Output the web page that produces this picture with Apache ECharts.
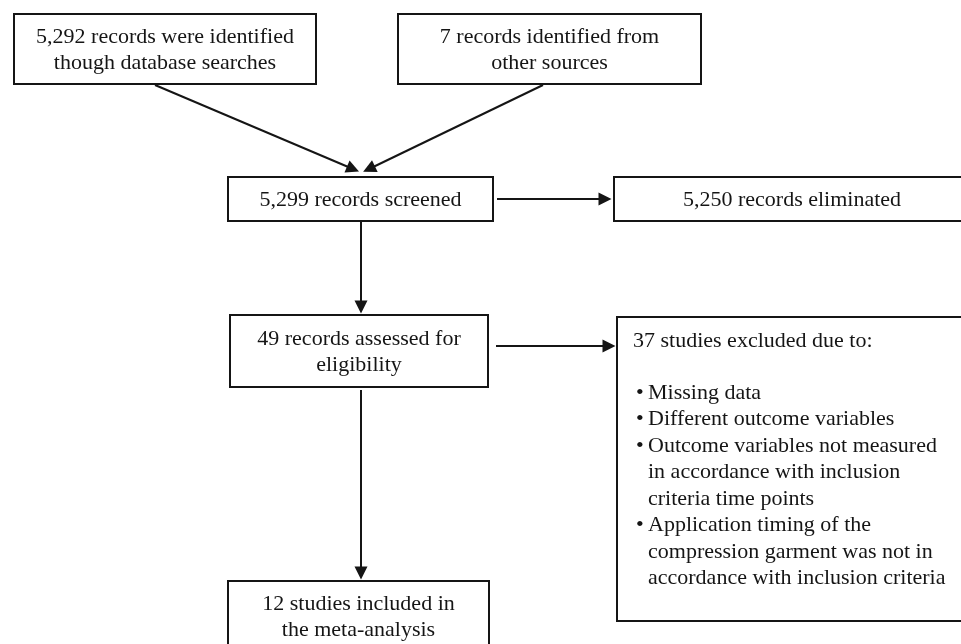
<!DOCTYPE html>
<html><head><meta charset="utf-8">
<script src="https://cdn.jsdelivr.net/npm/echarts@6/dist/echarts.min.js"></script>
<style>html,body{margin:0;padding:0;background:#fff}#c{width:961px;height:644px}</style>
</head><body><div id="c"></div>
<script>
// ---- data ----
const stageLabels = [
  '5,292 records were identified\nthough database searches',
  '7 records identified from\nother sources',
  '5,299 records screened',
  '5,250 records eliminated',
  '49 records assessed for\neligibility',
  '37 studies excluded due to:',
  '12 studies included in\nthe meta-analysis'
];
const exclusionReasons = [
  ['Missing data'],
  ['Different outcome variables'],
  ['Outcome variables not measured', 'in accordance with inclusion', 'criteria time points'],
  ['Application timing of the', 'compression garment was not in', 'accordance with inclusion criteria']
];
const flowLinks = [[0, 2], [1, 2], [2, 3], [2, 4], [4, 5], [4, 6]];

// ---- layout (page units) ----
const boxLayout = [
  [14, 14, 302, 70], [398, 14, 303, 70], [228, 177, 265, 44], [614, 177, 356, 44],
  [230, 315, 258, 72], [617, 317, 350, 304], [228, 581, 261, 70]
];
const linkAnchors = [
  [[155, 85], [353, 169]], [[543, 85], [369, 169]], [[497, 199], [605, 199]],
  [[361, 222], [361, 307]], [[496, 346], [609, 346]], [[361, 390], [361, 573]]
];
const FONT = '22px "Liberation Serif", "Times New Roman", serif';
const INK = '#151515';

const chart = echarts.init(document.getElementById('c'), null, {renderer: 'canvas'});
chart.setOption({
  backgroundColor: '#ffffff',
  animation: false,
  grid: {left: 0, right: 0, top: 0, bottom: 0},
  xAxis: {type: 'value', min: 0, max: 961, show: false},
  yAxis: {type: 'value', min: 0, max: 644, inverse: true, show: false},
  series: [
    {
      type: 'custom',
      coordinateSystem: 'cartesian2d',
      data: stageLabels.map((t, i) => [i]),
      renderItem: function (params, api) {
        const i = params.dataIndex;
        const b = boxLayout[i];
        const p0 = api.coord([b[0], b[1]]);
        const p1 = api.coord([b[0] + b[2], b[1] + b[3]]);
        const w = p1[0] - p0[0], h = p1[1] - p0[1];
        const children = [{
          type: 'rect',
          shape: {x: p0[0], y: p0[1], width: w, height: h},
          style: {fill: '#fff', stroke: INK, lineWidth: 2}
        }];
        if (i === 5) {
          const lh = 26.5;
          const tx = p0[0] + 16, bx = p0[0] + 19, rx = p0[0] + 31;
          let y = p0[1] + 24;
          children.push({type: 'text', style: {text: stageLabels[i], x: tx, y: y, font: FONT, fill: INK, align: 'left', verticalAlign: 'middle'}});
          y += 52;
          exclusionReasons.forEach(function (r) {
            children.push({type: 'text', style: {text: '•', x: bx, y: y, font: FONT, fill: INK, align: 'left', verticalAlign: 'middle'}});
            r.forEach(function (line) {
              children.push({type: 'text', style: {text: line, x: rx, y: y, font: FONT, fill: INK, align: 'left', verticalAlign: 'middle'}});
              y += lh;
            });
          });
        } else {
          children.push({
            type: 'text',
            style: {
              text: stageLabels[i], x: p0[0] + w / 2, y: p0[1] + h / 2 + 1,
              font: FONT, fill: INK, align: 'center', verticalAlign: 'middle', lineHeight: 26
            }
          });
        }
        return {type: 'group', children: children};
      }
    },
    {
      type: 'lines',
      coordinateSystem: 'cartesian2d',
      symbol: ['none', 'triangle'],
      symbolSize: 13,
      lineStyle: {color: INK, width: 2, opacity: 1},
      itemStyle: {color: INK},
      data: flowLinks.map((l, k) => ({coords: linkAnchors[k]}))
    }
  ]
});
</script></body></html>
